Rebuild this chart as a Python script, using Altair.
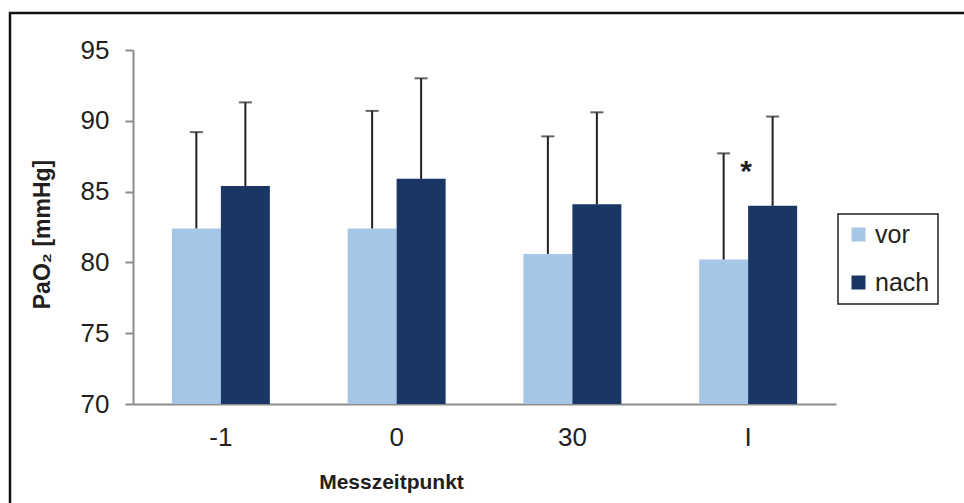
import altair as alt
import pandas as pd

# Measurement time points and group labels
zeitpunkte = ["-1", "0", "30", "I"]
gruppen = ["vor", "nach"]

# Mean PaO2 [mmHg] per time point
vor_mittel = [82.4, 82.4, 80.6, 80.2]
nach_mittel = [85.4, 85.9, 84.1, 84.0]

# Standard deviation (drawn upward only)
vor_sd = [6.8, 8.3, 8.3, 7.5]
nach_sd = [5.9, 7.1, 6.5, 6.3]

# Significance marker
stern_zeitpunkt = ["I"]
stern_text = ["*"]
stern_y = [86.7]

rows = []
for i, z in enumerate(zeitpunkte):
    rows.append({"Messzeitpunkt": z, "Gruppe": "vor", "mittel": vor_mittel[i],
                 "oben": vor_mittel[i] + vor_sd[i]})
    rows.append({"Messzeitpunkt": z, "Gruppe": "nach", "mittel": nach_mittel[i],
                 "oben": nach_mittel[i] + nach_sd[i]})
df = pd.DataFrame(rows)
stern_df = pd.DataFrame({"Messzeitpunkt": stern_zeitpunkt, "text": stern_text, "y": stern_y})

FONT = "Liberation Sans, Arial, Helvetica, DejaVu Sans, sans-serif"
W, H = 703, 354
LEFT, TOP = 133, 50

x_axis = alt.Axis(
    title="Messzeitpunkt",
    labelAngle=0,
    ticks=False,
    tickSize=0,
    labelPadding=20,
    labelFontSize=26,
    labelFont=FONT,
    labelColor="#231F20",
    domainColor="#8C8C8C",
    domainWidth=2,
    titleFont=FONT,
    titleFontSize=21,
    titleFontWeight="bold",
    titleColor="#231F20",
    titleX=258,
    titleY=84,
    titleAlign="center",
    titleBaseline="alphabetic",
    grid=False,
)
y_axis = alt.Axis(
    title="PaO₂ [mmHg]",
    values=[70, 75, 80, 85, 90, 95],
    grid=False,
    tickSize=8,
    tickColor="#8C8C8C",
    tickWidth=2,
    domainColor="#8C8C8C",
    domainWidth=2,
    labelPadding=16,
    labelFontSize=26,
    labelFont=FONT,
    labelColor="#231F20",
    titleFont=FONT,
    titleFontSize=23,
    titleFontWeight="bold",
    titleColor="#231F20",
    titleAngle=270,
    titleX=-91,
    titleY=184,
    titleAlign="center",
    titleBaseline="middle",
)

x_scale = alt.Scale(paddingInner=0.4424, paddingOuter=0.2212)
y_scale = alt.Scale(domain=[70, 95], nice=False, zero=False)


def x_enc():
    return alt.X("Messzeitpunkt:N", sort=zeitpunkte, scale=x_scale, axis=x_axis)


def y_enc(field):
    return alt.Y(field, scale=y_scale, axis=y_axis)


xoff = alt.XOffset("Gruppe:N", sort=gruppen, scale=alt.Scale(paddingInner=0, paddingOuter=0))

bars = alt.Chart(df).mark_bar(clip=True).encode(
    x=x_enc(),
    xOffset=xoff,
    y=y_enc("mittel:Q"),
    y2=alt.datum(70),
    color=alt.Color(
        "Gruppe:N",
        sort=gruppen,
        scale=alt.Scale(domain=gruppen, range=["#A6C6E8", "#1A3665"]),
        legend=alt.Legend(
            title=None,
            orient="none",
            legendX=705,
            legendY=164,
            symbolType="square",
            symbolSize=196,
            symbolStrokeWidth=0,
            labelFontSize=25,
            labelFont=FONT,
            labelColor="#231F20",
            labelOffset=4,
            rowPadding=22,
            padding=8,
            strokeColor="#231F20",
            fillColor="white",
        ),
    ),
)

err_rule = alt.Chart(df).mark_rule(color="#231F20", strokeWidth=2).encode(
    x=x_enc(),
    xOffset=xoff,
    y=y_enc("mittel:Q"),
    y2="oben:Q",
)

err_cap = alt.Chart(df).mark_tick(color="#231F20", thickness=2, size=13, orient="horizontal").encode(
    x=x_enc(),
    xOffset=xoff,
    y=y_enc("oben:Q"),
)

stern = alt.Chart(stern_df).mark_text(
    font=FONT, fontSize=30, fontWeight="bold", color="#231F20", baseline="middle", dy=4, dx=-2
).encode(
    x=x_enc(),
    y=y_enc("y:Q"),
    text="text:N",
)

# Outer frame around the figure
frame = alt.Chart(pd.DataFrame({"f": [0]})).mark_rect(
    fill=None, stroke="#111111", strokeWidth=2.5
).encode(
    x=alt.value(10 - LEFT),
    x2=alt.value(964 - LEFT + 20),
    y=alt.value(13 - TOP),
    y2=alt.value(503 - TOP + 20),
)

chart = (
    alt.layer(frame, bars, err_rule, err_cap, stern)
    .properties(
        width=W,
        height=H,
        background="white",
        autosize=alt.AutoSizeParams(type="none"),
        padding={"left": LEFT, "top": TOP, "right": 964 - LEFT - W, "bottom": 503 - TOP - H},
    )
    .configure_view(strokeWidth=0, strokeOpacity=0)
    .configure_axis(grid=False)
    .configure_legend(strokeColor="#231F20", strokeWidth=1.5)
)

chart.save("out.html", embed_options={"renderer": "svg", "actions": False})
